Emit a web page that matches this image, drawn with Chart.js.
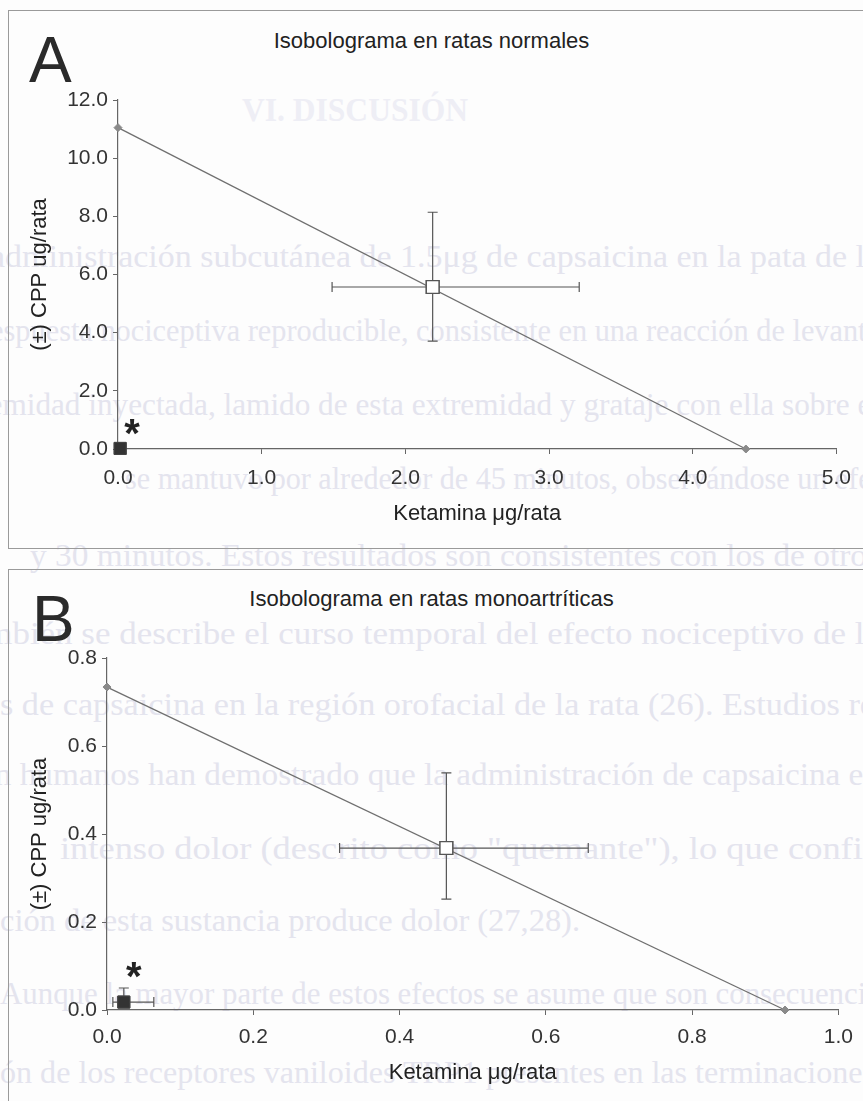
<!DOCTYPE html>
<html>
<head>
<meta charset="utf-8">
<script src="https://cdn.jsdelivr.net/npm/chart.js@4.4.1/dist/chart.umd.min.js"></script>
<style>
  html, body { margin: 0; padding: 0; background: #fdfdfd; }
  body { width: 863px; height: 1101px; position: relative; overflow: hidden; font-family: "Liberation Sans", Arial, sans-serif; }
  #bleed { position: absolute; left: 0; top: 0; }
  .frame { position: absolute; left: 8px; width: 1000px; border: 1px solid #9a9a9a; }
  .letter { position: absolute; font-size: 64px; color: #2a2a2a; line-height: 1; }
  .title { position: absolute; width: 863px; left: 0; text-align: center; font-size: 22px; color: #222; line-height: 1; }
  .wrap { position: absolute; left: 0; width: 863px; }
</style>
</head>
<body>
<!-- texto de la pagina que se transparenta en el escaneo -->
<svg id="bleed" width="863" height="1101" font-family="'Liberation Serif', 'DejaVu Serif', serif" fill="#e4e4ee" font-size="32">
  <text x="242" y="121" font-size="34" font-weight="bold" textLength="226" lengthAdjust="spacingAndGlyphs" fill="#eeeef5">VI. DISCUSIÓN</text>
  <text x="-10" y="267" textLength="890" lengthAdjust="spacingAndGlyphs">administración subcutánea de 1.5μg de capsaicina en la pata de la</text>
  <text x="-20" y="341" textLength="900" lengthAdjust="spacingAndGlyphs">respuesta nociceptiva reproducible, consistente en una reacción de levanta</text>
  <text x="-60" y="415" textLength="940" lengthAdjust="spacingAndGlyphs">extremidad inyectada, lamido de esta extremidad y grataje con ella sobre el</text>
  <text x="125" y="489" textLength="760" lengthAdjust="spacingAndGlyphs">se mantuvo por alrededor de 45 minutos, observándose un efec</text>
  <text x="30" y="566" textLength="850" lengthAdjust="spacingAndGlyphs">y 30 minutos. Estos resultados son consistentes con los de otros</text>
  <text x="-40" y="644" textLength="920" lengthAdjust="spacingAndGlyphs">también se describe el curso temporal del efecto nociceptivo de la</text>
  <text x="0" y="715" textLength="875" lengthAdjust="spacingAndGlyphs">s de capsaicina en la región orofacial de la rata (26). Estudios re</text>
  <text x="-20" y="785" textLength="900" lengthAdjust="spacingAndGlyphs">en humanos han demostrado que la administración de capsaicina en</text>
  <text x="60" y="859" textLength="815" lengthAdjust="spacingAndGlyphs">intenso  dolor  (descrito  como  "quemante"),  lo  que  confir</text>
  <text x="0" y="931" textLength="580" lengthAdjust="spacingAndGlyphs">ción de esta sustancia produce dolor (27,28).</text>
  <text x="0" y="1004" textLength="880" lengthAdjust="spacingAndGlyphs">Aunque la mayor parte de estos efectos se asume que son consecuencia</text>
  <text x="0" y="1083" textLength="875" lengthAdjust="spacingAndGlyphs">ón de los receptores vaniloides TRP1 presentes en las terminaciones</text>
</svg>

<div class="frame" style="top:10px; height:537px;"></div>
<div class="frame" style="top:569px; height:560px;"></div>

<div class="letter" style="left:29px; top:28px;">A</div>
<div class="title" style="top:30px; left:0;">Isobolograma en ratas normales</div>
<div class="wrap" style="top:0; height:548px;"><canvas id="chartA"></canvas></div>

<div class="letter" style="left:32px; top:587px;">B</div>
<div class="title" style="top:588px; left:0;">Isobolograma en ratas monoartríticas</div>
<div class="wrap" style="top:569px; height:532px;"><canvas id="chartB"></canvas></div>

<script>
// ---- A: ratas normales ----
const isoboleA_x = [0, 4.37];
const isoboleA_y = [11.05, 0];
const theoA = [2.19, 5.57];          // punto teorico (x, y)
const theoA_xRange = [1.49, 3.21];
const theoA_yRange = [3.71, 8.14];
const exptA = [0.015, 0.02];         // punto experimental
const exptA_xRange = [0.015, 0.015];
const exptA_yRange = [0.02, 0.02];
const ticksA_x = [0, 1, 2, 3, 4, 5];
const ticksA_y = [0, 2, 4, 6, 8, 10, 12];

// ---- B: ratas monoartriticas ----
const isoboleB_x = [0, 0.927];
const isoboleB_y = [0.734, 0];
const theoB = [0.464, 0.368];
const theoB_xRange = [0.318, 0.658];
const theoB_yRange = [0.252, 0.539];
const exptB = [0.023, 0.018];
const exptB_xRange = [0.008, 0.064];
const exptB_yRange = [0.018, 0.05];
const ticksB_x = [0, 0.2, 0.4, 0.6, 0.8, 1.0];
const ticksB_y = [0, 0.2, 0.4, 0.6, 0.8];

const FONT = "'Liberation Sans', Arial, sans-serif";
const INK = '#333';

// barras de error + asterisco
const errorBarsPlugin = {
    id: 'errorBars',
    afterDatasetsDraw(chart, args, opts) {
        const ctx = chart.ctx;
        const xs = chart.scales.x, ys = chart.scales.y;
        const cap = 5;
        ctx.save();
        ctx.strokeStyle = '#555';
        ctx.lineWidth = 1.2;
        opts.bars.forEach(b => {
            const px = xs.getPixelForValue(b.pt[0]);
            const py = ys.getPixelForValue(b.pt[1]);
            const x0 = xs.getPixelForValue(b.xr[0]), x1 = xs.getPixelForValue(b.xr[1]);
            const y0 = ys.getPixelForValue(b.yr[0]), y1 = ys.getPixelForValue(b.yr[1]);
            ctx.beginPath();
            if (x1 - x0 > 1) {
                ctx.moveTo(x0, py); ctx.lineTo(x1, py);
                ctx.moveTo(x0, py - cap); ctx.lineTo(x0, py + cap);
                ctx.moveTo(x1, py - cap); ctx.lineTo(x1, py + cap);
            }
            if (y0 - y1 > 1) {
                ctx.moveTo(px, y0); ctx.lineTo(px, y1);
                ctx.moveTo(px - cap, y1); ctx.lineTo(px + cap, y1);
                if (b.yr[0] < b.pt[1]) { ctx.moveTo(px - cap, y0); ctx.lineTo(px + cap, y0); }
            }
            ctx.stroke();
        });
        // redibujar los marcadores encima de las barras
        chart.getSortedVisibleDatasetMetas().forEach(meta => {
            if (meta.index > 0) meta.controller.draw();
        });
        // asterisco de significancia
        const s = opts.star;
        const sx = xs.getPixelForValue(s.at[0]) + s.dx;
        const sy = ys.getPixelForValue(s.at[1]) + s.dy;
        ctx.font = 'bold 40px ' + FONT;
        ctx.fillStyle = '#222';
        ctx.textAlign = 'center';
        ctx.textBaseline = 'alphabetic';
        const m = ctx.measureText('*');
        ctx.fillText('*', sx, sy + (m.actualBoundingBoxAscent - m.actualBoundingBoxDescent) / 2);
        ctx.restore();
    }
};

function makeChart(id, cfg) {
    const line = cfg.lineX.map((x, i) => ({ x: x, y: cfg.lineY[i] }));
    new Chart(document.getElementById(id), {
        type: 'scatter',
        data: {
            datasets: [{
                data: line,
                showLine: true,
                borderColor: '#6f6f6f',
                borderWidth: 1.3,
                pointStyle: 'rectRot',
                pointRadius: 4,
                pointBackgroundColor: '#8a8a8a',
                pointBorderColor: '#8a8a8a',
                pointBorderWidth: 1
            }, {
                data: [{ x: cfg.theo[0], y: cfg.theo[1] }],
                pointStyle: 'rect',
                pointRadius: 9,
                pointBackgroundColor: '#ffffff',
                pointBorderColor: '#555',
                pointBorderWidth: 1.3
            }, {
                data: [{ x: cfg.expt[0], y: cfg.expt[1] }],
                pointStyle: 'rect',
                pointRadius: 8.5,
                pointBackgroundColor: '#333',
                pointBorderColor: '#444',
                pointBorderWidth: 1
            }]
        },
        options: {
            responsive: true,
            maintainAspectRatio: false,
            animation: false,
            events: [],
            layout: { padding: { left: 0, right: cfg.padRight, top: cfg.padTop, bottom: 0 } },
            clip: false,
            scales: {
                x: {
                    type: 'linear',
                    min: cfg.ticksX[0],
                    max: cfg.ticksX[cfg.ticksX.length - 1],
                    afterBuildTicks: s => { s.ticks = cfg.ticksX.map(v => ({ value: v })); },
                    afterFit: s => { s.height = cfg.xHeight; },
                    grid: { drawOnChartArea: false, drawTicks: true, tickLength: 5, color: '#666', tickColor: '#666' },
                    border: { display: true, color: '#666', width: 1.2 },
                    ticks: {
                        padding: cfg.xTickPad,
                        color: INK,
                        font: { family: FONT, size: 21 },
                        maxRotation: 0,
                        callback: v => v.toFixed(1)
                    },
                    title: {
                        display: true,
                        text: 'Ketamina μg/rata',
                        color: '#222',
                        font: { family: FONT, size: 22 },
                        padding: { top: 0, bottom: cfg.xTitlePad }
                    }
                },
                y: {
                    type: 'linear',
                    min: cfg.ticksY[0],
                    max: cfg.ticksY[cfg.ticksY.length - 1],
                    afterBuildTicks: s => { s.ticks = cfg.ticksY.map(v => ({ value: v })); },
                    afterFit: s => { s.width = cfg.yWidth; },
                    grid: { drawOnChartArea: false, drawTicks: true, tickLength: 5, color: '#666', tickColor: '#666' },
                    border: { display: true, color: '#666', width: 1.2 },
                    ticks: {
                        padding: 5,
                        color: INK,
                        font: { family: FONT, size: 21 },
                        callback: v => v.toFixed(1)
                    },
                    title: {
                        display: true,
                        text: '(±) CPP ug/rata',
                        color: '#222',
                        font: { family: FONT, size: 22 },
                        padding: { top: 27, bottom: 0 }
                    }
                }
            },
            plugins: {
                legend: { display: false },
                tooltip: { enabled: false },
                errorBars: {
                    bars: [
                        { pt: cfg.theo, xr: cfg.theoXR, yr: cfg.theoYR },
                        { pt: cfg.expt, xr: cfg.exptXR, yr: cfg.exptYR }
                    ],
                    star: cfg.star
                }
            }
        },
        plugins: [errorBarsPlugin]
    });
}

makeChart('chartA', {
    lineX: isoboleA_x, lineY: isoboleA_y,
    theo: theoA, theoXR: theoA_xRange, theoYR: theoA_yRange,
    expt: exptA, exptXR: exptA_xRange, exptYR: exptA_yRange,
    ticksX: ticksA_x, ticksY: ticksA_y,
    padRight: 20, padTop: 100, yWidth: 118, xHeight: 99,
    xTickPad: 12, xTitlePad: 21,
    star: { at: exptA, dx: 12, dy: -21 }
});

makeChart('chartB', {
    lineX: isoboleB_x, lineY: isoboleB_y,
    theo: theoB, theoXR: theoB_xRange, theoYR: theoB_yRange,
    expt: exptB, exptXR: exptB_xRange, exptYR: exptB_yRange,
    ticksX: ticksB_x, ticksY: ticksB_y,
    padRight: 19, padTop: 89, yWidth: 107, xHeight: 91,
    xTickPad: 10, xTitlePad: 15,
    star: { at: exptB, dx: 10, dy: -32 }
});
</script>
</body>
</html>
